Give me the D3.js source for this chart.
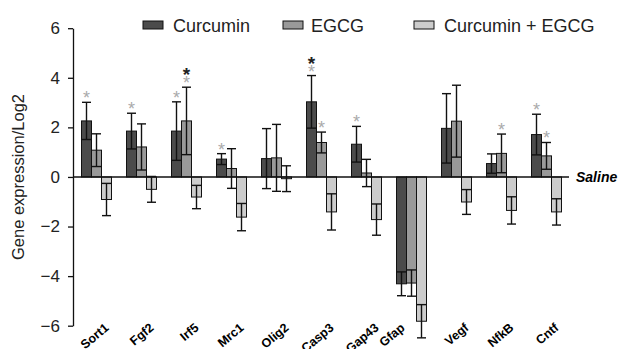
<!DOCTYPE html>
<html><head><meta charset="utf-8">
<script src="https://cdn.jsdelivr.net/npm/d3@7"></script>
<style>body{margin:0;background:#fff}svg{display:block}</style>
</head><body>
<svg id="c" width="621" height="349"></svg>
<script>
const categories = ["Sort1","Fgf2","Irf5","Mrc1","Olig2","Casp3","Gap43","Gfap","Vegf","NfkB","Cntf"];
const seriesNames = ["Curcumin","EGCG","Curcumin + EGCG"];
const curcumin    = [2.26,1.85,1.85,0.72,0.74,3.03,1.32,-4.31,1.96,0.54,1.71];
const curcuminErr = [0.75,0.72,1.18,0.22,1.21,1.06,0.72,0.48,1.40,0.39,0.82];
const egcg        = [1.08,1.21,2.26,0.34,0.77,1.39,0.16,-4.28,2.25,0.95,0.85];
const egcgErr     = [0.66,0.93,1.36,0.80,1.35,0.42,0.55,0.53,1.45,0.78,0.54];
const combo       = [-0.91,-0.50,-0.81,-1.62,-0.07,-1.41,-1.72,-5.82,-1.01,-1.35,-1.41];
const comboErr    = [0.65,0.52,0.47,0.55,0.52,0.73,0.63,0.67,0.50,0.55,0.53];
const yTicks = [-6,-4,-2,0,2,4,6];
// significance marks: category, series index, colour, stacking rank
const stars = [
  ["Sort1",0,"gray",0],["Fgf2",0,"gray",0],["Irf5",0,"gray",0],
  ["Irf5",1,"gray",0],["Irf5",1,"black",1],["Mrc1",0,"gray",0],
  ["Casp3",0,"gray",0],["Casp3",0,"black",1],["Casp3",1,"gray",0],
  ["Gap43",0,"gray",0],["NfkB",1,"gray",0],["Cntf",0,"gray",0],["Cntf",1,"gray",0]
];

const values = [curcumin, egcg, combo];
const errors = [curcuminErr, egcgErr, comboErr];
const colors = ["#4b4b4b","#999999","#cccccc"];
const font = "'Liberation Sans', Arial, sans-serif";

const svg = d3.select("#c");
const y = d3.scaleLinear().domain([-6,6]).range([325.7,28.2]);
const x = d3.scaleBand().domain(categories).range([74,569]).paddingInner(1/3).paddingOuter(1/6);
const xs = d3.scaleBand().domain([0,1,2]).range([0,x.bandwidth()]);

// bars
const rows = [];
categories.forEach((c,i)=>{ for(let s=0;s<3;s++) rows.push({c,s,v:values[s][i],e:errors[s][i]}); });
svg.append("g").selectAll("rect").data(rows).join("rect")
  .attr("x",d=>x(d.c)+xs(d.s)).attr("width",xs.bandwidth())
  .attr("y",d=>y(Math.max(0,d.v))).attr("height",d=>Math.abs(y(d.v)-y(0)))
  .attr("fill",d=>colors[d.s]).attr("stroke","#111").attr("stroke-width",1);

// error bars
const eg = svg.append("g").attr("stroke","#111").attr("stroke-width",1.4);
rows.forEach(d=>{
  const cx = x(d.c)+xs(d.s)+xs.bandwidth()/2;
  const y1 = y(d.v+d.e), y2 = y(d.v-d.e);
  eg.append("line").attr("x1",cx).attr("x2",cx).attr("y1",y1).attr("y2",y2);
  eg.append("line").attr("x1",cx-4.5).attr("x2",cx+4.5).attr("y1",y1).attr("y2",y1);
  eg.append("line").attr("x1",cx-4.5).attr("x2",cx+4.5).attr("y1",y2).attr("y2",y2);
});

// zero line
svg.append("line").attr("x1",73).attr("x2",569).attr("y1",y(0)).attr("y2",y(0))
  .attr("stroke","#111").attr("stroke-width",1.5);
svg.append("text").attr("x",576).attr("y",y(0)+5).text("Saline")
  .attr("font-family",font).attr("font-size",14).attr("font-weight","bold").attr("font-style","italic");

// y axis
const ya = svg.append("g").attr("transform","translate(73,0)")
  .call(d3.axisLeft(y).tickValues(yTicks).tickSize(5).tickSizeOuter(0).tickPadding(8));
ya.selectAll("text").attr("font-family",font).attr("font-size",17).attr("fill","#222");
ya.selectAll("line,path").attr("stroke","#111").attr("stroke-width",1.3);

svg.append("text").attr("transform","translate(24,177) rotate(-90)").attr("text-anchor","middle")
  .attr("font-family",font).attr("font-size",16.5).attr("fill","#222").text("Gene expression/Log2");

// category labels
svg.append("g").selectAll("text").data(categories).join("text")
  .attr("transform",c=>`translate(${x(c)+x.bandwidth()/2+(c==="Gfap"?-6:13)},329) rotate(-40)`)
  .attr("text-anchor","end").attr("font-family",font).attr("font-size",12.5).attr("font-weight","bold")
  .text(c=>c);

// stars
svg.append("g").selectAll("text").data(stars).join("text")
  .attr("x",d=>x(d[0])+xs(d[1])+xs.bandwidth()/2)
  .attr("y",d=>{const i=categories.indexOf(d[0]);return y(values[d[1]][i]+errors[d[1]][i]) + 2 - d[3]*8;})
  .attr("text-anchor","middle").attr("font-family",font).attr("font-size",d=>d[2]==="black"?19:18)
  .attr("font-weight",d=>d[2]==="black"?"bold":"normal")
  .attr("fill",d=>d[2]==="black"?"#222":"#aaa").text("*");

// legend
const lx = [143,283,414], tx = [173,311,444];
seriesNames.forEach((n,i)=>{
  svg.append("rect").attr("x",lx[i]).attr("y",21).attr("width",20).attr("height",8)
    .attr("fill",colors[i]).attr("stroke","#111").attr("stroke-width",1);
  svg.append("text").attr("x",tx[i]).attr("y",32).attr("font-family",font).attr("font-size",18)
    .attr("fill","#222").text(n);
});
</script>
</body></html>
